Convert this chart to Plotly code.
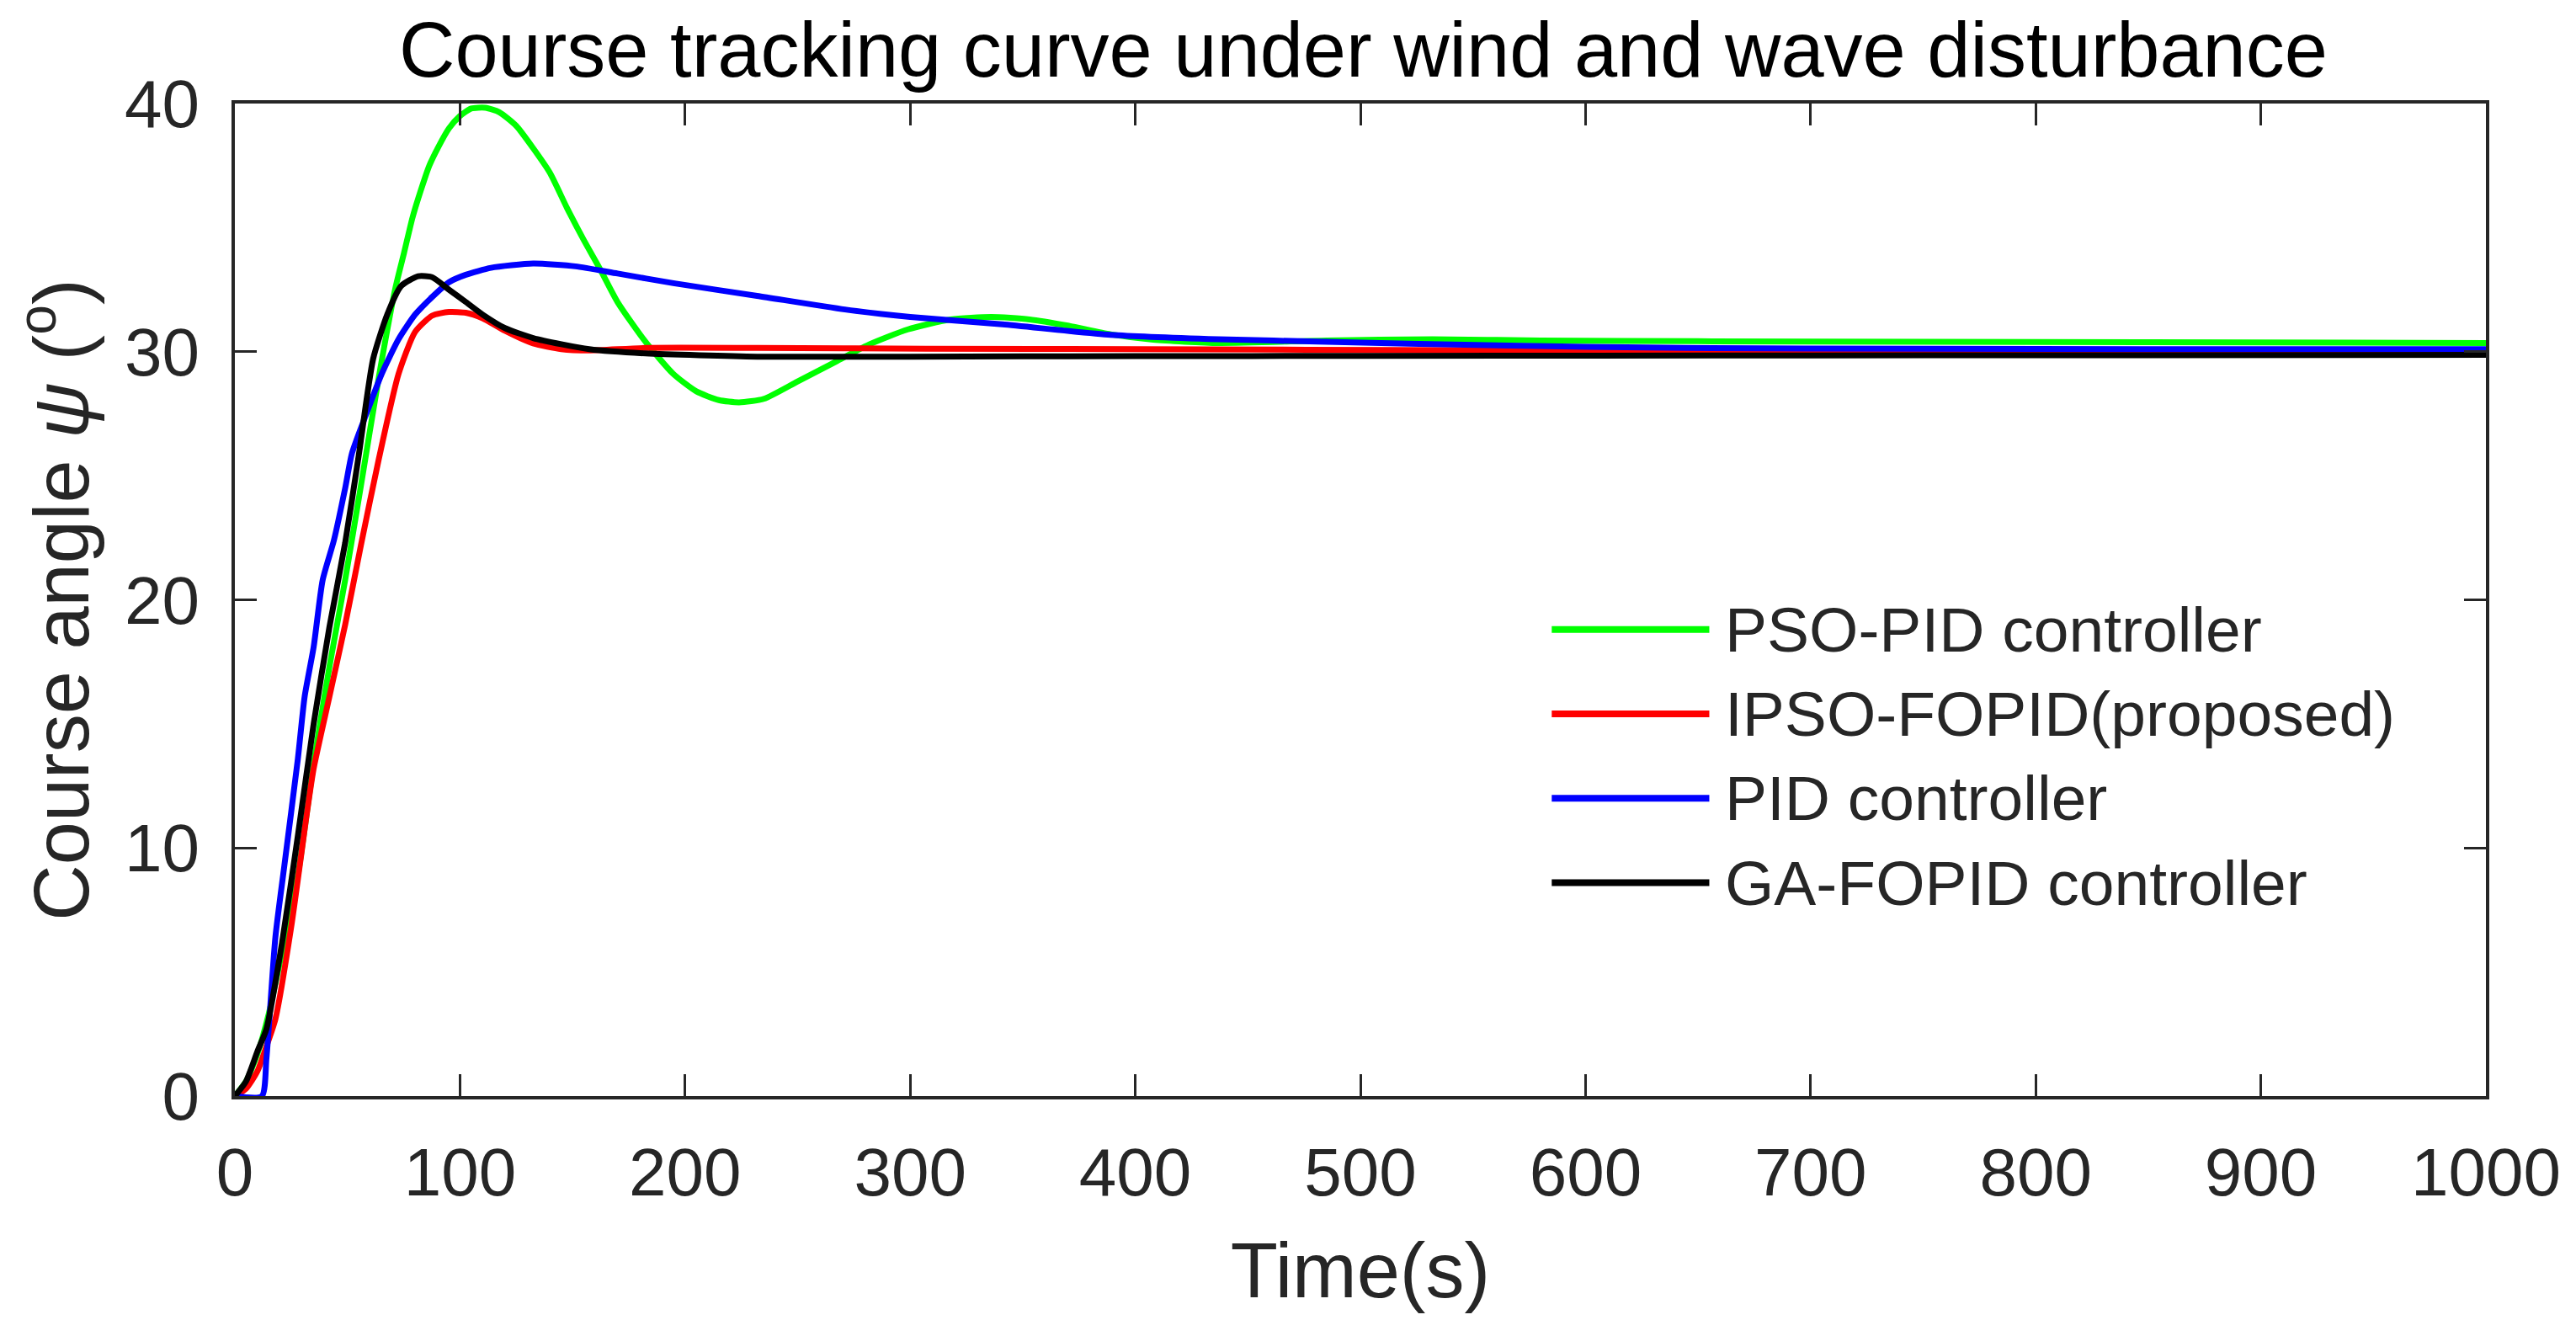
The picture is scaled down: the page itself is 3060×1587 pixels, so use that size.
import plotly.graph_objects as go

# data (time in s, course angle in degrees)
pso_pid_t = [0, 5, 10, 15, 20, 28, 35, 42, 49, 56, 64, 71.4, 75.2, 78.9, 82.6, 86.4,
             90.1, 95.1, 100, 105, 111.3, 117.5, 125, 132.5, 140, 147.5, 155, 162.4,
             170, 182.4, 194.8, 205, 215, 224, 235, 250, 267, 282, 299, 318, 336,
             353, 370, 389, 408, 437, 485, 532, 580, 650, 750, 850, 1000]
pso_pid_y = [0, 0.6, 1.7, 3.3, 5.4, 8.9, 13.4, 17.3, 20.8, 24.6, 29.0, 32.6, 34.0,
             35.4, 36.5, 37.5, 38.2, 39.0, 39.5, 39.8, 39.83, 39.65, 39.1, 38.2,
             37.2, 35.8, 34.5, 33.3, 32.0, 30.4, 29.1, 28.4, 28.05, 27.96, 28.1,
             28.8, 29.6, 30.3, 30.9, 31.3, 31.4, 31.3, 31.05, 30.7, 30.48, 30.35,
             30.45, 30.5, 30.45, 30.42, 30.4, 30.38, 30.35]

ipso_fopid_t = [0, 5, 10, 14, 18, 25, 32, 35, 42, 49, 56, 64, 72.7, 80.1, 87.6, 95.1,
                102.6, 110, 120, 132.5, 145, 157.4, 182.4, 232, 307, 400, 550, 700,
                850, 1000]
ipso_fopid_y = [0, 0.3, 1.0, 2.0, 3.1, 6.8, 11.4, 13.2, 16.1, 19.0, 22.2, 25.7, 29.1,
                30.8, 31.45, 31.6, 31.57, 31.35, 30.84, 30.33, 30.1, 30.05, 30.15,
                30.15, 30.12, 30.1, 30.06, 30.04, 30.02, 30.0]

pid_t = [0, 12, 14, 18, 22, 28, 31, 35, 39, 44, 49, 52, 58, 65.2, 72.7, 80.1, 87.6,
         95.1, 102.6, 113.8, 132.5, 151.3, 170, 194.8, 232, 271, 300, 341, 389, 437,
         485, 556, 644, 750, 850, 1000]
pid_y = [0, 0, 1.5, 6.4, 9.3, 13.6, 16.1, 18.1, 20.8, 22.4, 24.5, 25.9, 27.4, 29.1,
         30.5, 31.5, 32.2, 32.8, 33.1, 33.38, 33.55, 33.44, 33.15, 32.76, 32.25,
         31.7, 31.4, 31.1, 30.68, 30.5, 30.4, 30.26, 30.15, 30.12, 30.1, 30.1]

ga_fopid_t = [0, 5, 10, 14, 21, 28, 35, 42, 49, 55, 61.4, 67.7, 73.9, 81.4, 87.6,
              95.1, 102.6, 110, 120, 132.5, 145, 157.4, 182.4, 232, 300, 400, 500,
              700, 1000]
ga_fopid_y = [0, 0.6, 1.8, 2.7, 6.2, 10.5, 15.0, 18.9, 22.3, 25.8, 29.7, 31.5, 32.65,
              33.04, 33.0, 32.5, 32.0, 31.5, 30.95, 30.55, 30.3, 30.1, 29.93, 29.8,
              29.8, 29.82, 29.83, 29.85, 29.87]

names = ['PSO-PID controller', 'IPSO-FOPID(proposed)', 'PID controller',
         'GA-FOPID controller']
colors = ['#00ff00', '#ff0000', '#0000ff', '#000000']
widths = [7, 7, 7, 7]

series = [(pso_pid_t, pso_pid_y), (ipso_fopid_t, ipso_fopid_y),
          (pid_t, pid_y), (ga_fopid_t, ga_fopid_y)]

FONT = 'Liberation Sans, Arial, sans-serif'
INK = '#262626'

fig = go.Figure()
for (t, y), name, col, w in zip(series, names, colors, widths):
    fig.add_trace(go.Scatter(
        x=t, y=y, mode='lines', name=name,
        line=dict(color=col, width=w, shape='spline', smoothing=0.6),
        showlegend=False,
    ))

# MATLAB style legend drawn inside the axes
leg_y = [18.8, 15.4, 12.0, 8.6]
for yy, name, col in zip(leg_y, names, colors):
    fig.add_shape(type='line', xref='x', yref='y', x0=585, x1=655, y0=yy, y1=yy,
                  line=dict(color=col, width=8))
    fig.add_annotation(x=661, y=yy, xref='x', yref='y', text=name, showarrow=False,
                       xanchor='left', yanchor='middle',
                       font=dict(family=FONT, size=75, color=INK))

axis_common = dict(
    showline=True, linecolor=INK, linewidth=4, mirror='ticks',
    ticks='inside', ticklen=26, tickwidth=3, tickcolor=INK,
    showgrid=False, zeroline=False,
    tickfont=dict(family=FONT, size=80, color=INK),
)

# page body keeps an 8px margin, so the figure is shrunk by that much
fig.update_layout(
    width=3052, height=1579,
    margin=dict(l=271, r=107, t=115, b=285),
    paper_bgcolor='white', plot_bgcolor='white',
    title=dict(text='Course tracking curve under wind and wave disturbance',
               x=0.528, xanchor='center', y=0.968, yanchor='middle',
               font=dict(family=FONT, size=92, color='black')),
    xaxis=dict(range=[0, 1000], dtick=100, tick0=0, ticklabelstandoff=18,
               title=dict(text='Time(s)', standoff=42,
                          font=dict(family=FONT, size=92, color=INK)),
               **axis_common),
    yaxis=dict(range=[0, 40], dtick=10, tick0=0, ticklabelstandoff=22,
               title=dict(text='Course angle <i>ψ</i> (<sup>o</sup>)', standoff=14,
                          font=dict(family=FONT, size=92, color=INK)),
               **axis_common),
)

fig.write_html('out.html')
